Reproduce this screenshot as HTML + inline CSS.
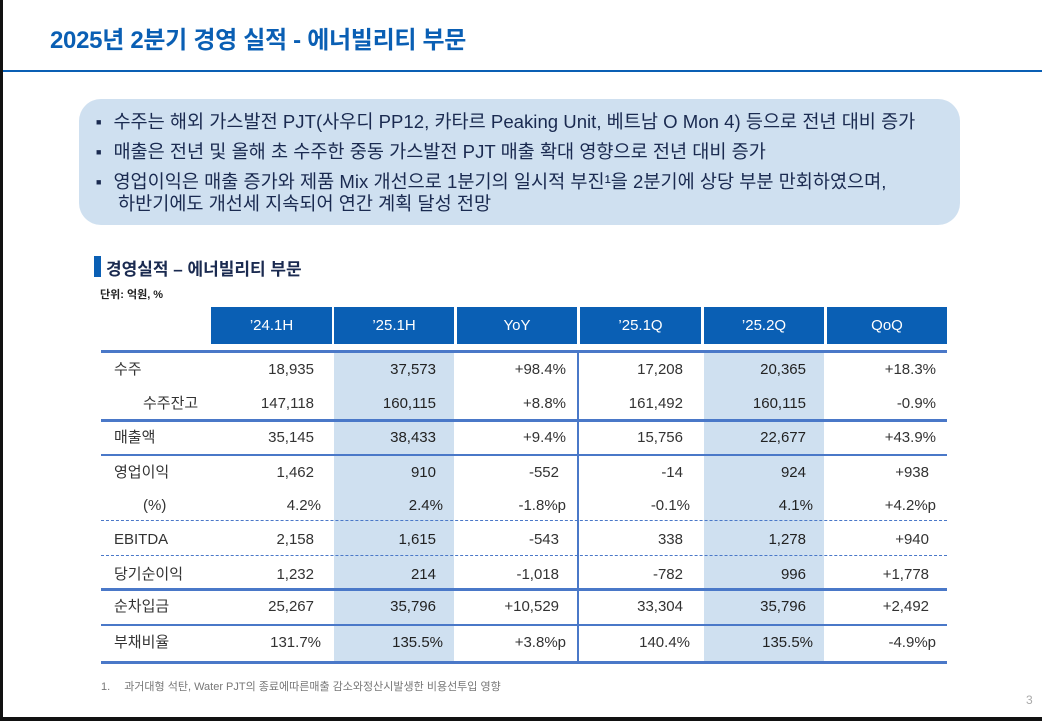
<!DOCTYPE html>
<html><head><meta charset="utf-8"><style>
body{margin:0;width:1042px;height:721px;overflow:hidden;background:#fff;position:relative;font-family:"Liberation Sans","Noto Sans CJK KR",sans-serif;}
.a{position:absolute;}
.hd{position:absolute;top:307px;height:37px;background:#0a5fb4;color:#fff;font-size:15px;line-height:37px;text-align:center;}
.cell{position:absolute;font-size:15px;color:#333;text-align:right;line-height:20px;}
.lab{position:absolute;font-size:15px;color:#333;line-height:20px;}
.hl{font-weight:500;color:#222}
.ln{position:absolute;left:101px;width:846px;}
</style></head><body>
<div class="a" style="left:0;top:0;width:3px;height:721px;background:#111"></div>
<div class="a" style="left:0;top:717px;width:1042px;height:4px;background:#111"></div>
<div class="a" style="left:50px;top:20px;font-size:24px;font-weight:bold;color:#0a5fb4;letter-spacing:-0.3px">2025년 2분기 경영 실적 - 에너빌리티 부문</div>
<div class="a" style="left:3px;top:70px;width:1039px;height:2px;background:#0a5fb4"></div>
<div class="a" style="left:79px;top:99px;width:881px;height:126px;border-radius:22px;background:#cfe0f0"></div>
<div class="a" style="left:96px;top:111px;font-size:18.6px;color:#1a2a50;line-height:22px;letter-spacing:0px">
<div style="margin-bottom:8px"><span style="font-size:9px;vertical-align:3px;margin-right:12px">■</span>수주는 해외 가스발전 PJT(사우디 PP12, 카타르 Peaking Unit, 베트남 O Mon 4) 등으로 전년 대비 증가</div>
<div style="margin-bottom:8px"><span style="font-size:9px;vertical-align:3px;margin-right:12px">■</span>매출은 전년 및 올해 초 수주한 중동 가스발전 PJT 매출 확대 영향으로 전년 대비 증가</div>
<div><span style="font-size:9px;vertical-align:3px;margin-right:12px">■</span>영업이익은 매출 증가와 제품 Mix 개선으로 1분기의 일시적 부진¹을 2분기에 상당 부분 만회하였으며,<br><span style="margin-left:22px">하반기에도 개선세 지속되어 연간 계획 달성 전망</span></div>
</div>
<div class="a" style="left:94px;top:256px;width:7px;height:21px;background:#0a5fb4"></div>
<div class="a" style="left:106px;top:255px;font-size:17px;font-weight:bold;color:#1a2a50">경영실적 – 에너빌리티 부문</div>
<div class="a" style="left:100px;top:286px;font-size:11px;font-weight:bold;color:#222">단위: 억원, %</div>
<div id="tbl"></div>
<div class="a" style="left:101px;top:678px;font-size:11px;color:#777">1.<span style="margin-left:14px">과거대형 석탄, Water PJT의 종료에따른매출 감소와정산시발생한 비용선투입 영향</span></div>
<div class="a" style="left:1026px;top:693px;font-size:12px;color:#aaa">3</div>
<script>
const headers=["’24.1H","’25.1H","YoY","’25.1Q","’25.2Q","QoQ"];
const rowLabels=["수주","수주잔고","매출액","영업이익","(%)","EBITDA","당기순이익","순차입금","부채비율"];
const c241H=["18,935","147,118","35,145","1,462","4.2%","2,158","1,232","25,267","131.7%"];
const c251H=["37,573","160,115","38,433","910","2.4%","1,615","214","35,796","135.5%"];
const cYoY=["+98.4%","+8.8%","+9.4%","-552","-1.8%p","-543","-1,018","+10,529","+3.8%p"];
const c251Q=["17,208","161,492","15,756","-14","-0.1%","338","-782","33,304","140.4%"];
const c252Q=["20,365","160,115","22,677","924","4.1%","1,278","996","35,796","135.5%"];
const cQoQ=["+18.3%","-0.9%","+43.9%","+938","+4.2%p","+940","+1,778","+2,492","-4.9%p"];
const cols=[c241H,c251H,cYoY,c251Q,c252Q,cQoQ];
const colL=[211,334,457,580,704,827],colW=[121,120,120,121,120,120];
const rowY=[370,404,438,473,506,540,575,607,643];
const indent=[0,1,0,0,1,0,0,0,0];
const T=document.getElementById('tbl');
function mk(cls,st,txt){const d=document.createElement('div');d.className=cls;d.style.cssText=st;if(txt!==undefined)d.textContent=txt;T.appendChild(d);return d;}
[1,4].forEach(i=>{const d=mk('a',`left:${colL[i]}px;top:351px;width:${colW[i]}px;height:311px;background:#cfe0f0`);

});
headers.forEach((h,i)=>{const d=mk('hd',`left:${colL[i]}px;width:${colW[i]}px`,h);

});
const lines=[[350,2.5,'solid'],[419,2.5,'solid'],[454,1.5,'solid'],[520,1,'dashed'],[555,1,'dashed'],[588,2.5,'solid'],[624,1.5,'solid'],[661,2.5,'solid']];
lines.forEach(l=>{const d=mk('ln',l[2]=='solid'?`top:${l[0]}px;height:${l[1]}px;background:#4a78c8`:`top:${l[0]}px;height:0;border-top:1px dashed #4a78c8`);

});
{const d=mk('a','left:577px;top:351px;width:1.5px;height:311px;background:#4a78c8');

}
rowLabels.forEach((r,j)=>{const d=mk('lab',`left:${indent[j]?143:114}px;top:${rowY[j]-10}px`,r);


cols.forEach((c,i)=>{const pad=(c[j].endsWith('%')||c[j].endsWith('%p'))?11:18;
const e=mk('cell'+((i==1||i==4)?' hl':''),`left:${colL[i]}px;width:${colW[i]-pad}px;top:${rowY[j]-10}px`,c[j]);

});});
</script>
</body></html>
